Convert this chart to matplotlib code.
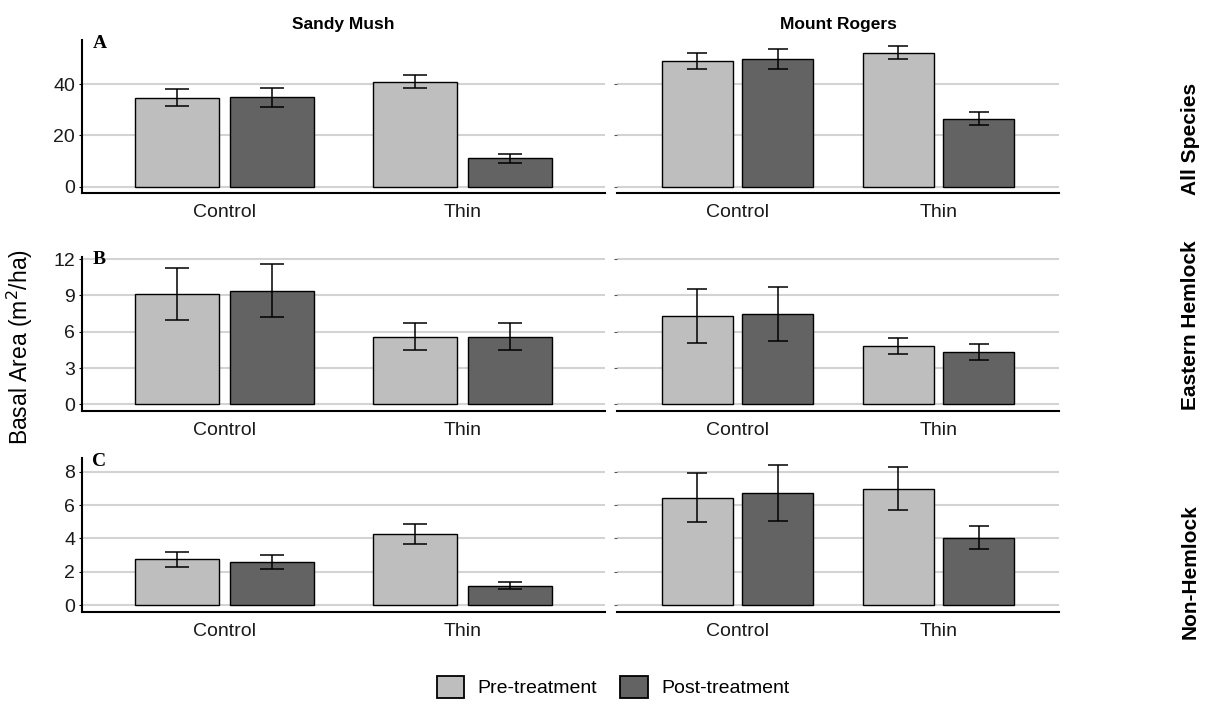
import matplotlib
matplotlib.use("Agg")
import matplotlib.pyplot as plt
import numpy as np
from matplotlib.patches import Patch

plt.rcParams['font.family'] = ['Liberation Sans', 'DejaVu Sans']

# data
sites = ["Sandy Mush", "Mount Rogers"]
groups = ["All Species", "Eastern Hemlock", "Non-Hemlock"]
letters = ["A", "B", "C"]
treatments = ["Control", "Thin"]
series = ["Pre-treatment", "Post-treatment"]

# [group][site] -> values for Control, Thin
pre_mean = [[[34.8, 41.0], [49.0, 52.3]],
            [[9.15, 5.6], [7.3, 4.8]],
            [[2.75, 4.25], [6.44, 6.98]]]
pre_se = [[[3.25, 2.6], [3.1, 2.5]],
          [[2.15, 1.1], [2.2, 0.68]],
          [[0.45, 0.6], [1.48, 1.27]]]
post_mean = [[[35.0, 11.0], [50.0, 26.6]],
             [[9.4, 5.6], [7.45, 4.3]],
             [[2.58, 1.17], [6.74, 4.05]]]
post_se = [[[3.7, 1.6], [3.95, 2.5]],
           [[2.2, 1.15], [2.25, 0.65]],
           [[0.42, 0.2], [1.68, 0.69]]]

yticks = [[0, 20, 40], [0, 3, 6, 9, 12], [0, 2, 4, 6, 8]]
ylims = [(-2.6, 57.3), (-0.55, 12.2), (-0.42, 8.8)]

pre_col = "#bebebe"
post_col = "#636363"

fig = plt.figure(figsize=(12.14, 7.06), dpi=100)

# axes boxes in pixels (left, top, right, bottom)
col_px = [(82, 605), (617, 1059)]
row_px = [(40, 193.3), (256.7, 411), (458.3, 612.3)]
strip_y = [139, 325, 572]
W, H = 1214, 706

x = np.arange(len(treatments))
bw = 0.355
off = 0.2

for r in range(3):
    for c in range(2):
        l, rr = col_px[c]
        t, b = row_px[r]
        ax = fig.add_axes([l / W, 1 - b / H, (rr - l) / W, (b - t) / H])
        cap = 8.6 if c == 0 else 7.2
        ax.bar(x - off, pre_mean[r][c], bw, color=pre_col, edgecolor="black",
               linewidth=1.0, zorder=3)
        ax.bar(x + off, post_mean[r][c], bw, color=post_col, edgecolor="black",
               linewidth=1.0, zorder=3)
        ax.errorbar(x - off, pre_mean[r][c], yerr=pre_se[r][c], fmt="none",
                    ecolor="black", elinewidth=1.1, capsize=cap, capthick=1.1, zorder=4)
        ax.errorbar(x + off, post_mean[r][c], yerr=post_se[r][c], fmt="none",
                    ecolor="black", elinewidth=1.1, capsize=cap, capthick=1.1, zorder=4)

        ax.set_xlim(-0.6, 1.6)
        ax.set_ylim(*ylims[r])
        ax.set_xticks(x)
        ax.set_xticklabels(treatments, fontsize=14, color="#1a1a1a")
        ax.set_yticks(yticks[r])
        ax.grid(axis="y", color="#d3d3d3", linewidth=1.5, zorder=0)
        ax.set_axisbelow(True)
        ax.tick_params(axis="x", length=0, pad=8)
        for s in ["top", "right"]:
            ax.spines[s].set_visible(False)
        ax.spines["bottom"].set_linewidth(1.5)
        if c == 0:
            ax.spines["left"].set_linewidth(1.5)
            ax.tick_params(axis="y", length=2, labelsize=14, labelcolor="#1a1a1a", pad=3)
            ax.text(0.02, 1.035, letters[r], transform=ax.transAxes, ha="left", va="top",
                    fontsize=14, fontweight="bold", family="Liberation Serif")
        else:
            ax.spines["left"].set_visible(False)
            ax.tick_params(axis="y", length=2, labelleft=False, color="#555555")
            fig.text(1190 / W, 1 - strip_y[r] / H, groups[r], rotation=90,
                     ha="center", va="center", fontsize=15, fontweight="bold")
        if r == 0:
            ax.set_title(sites[c], fontsize=12.5, fontweight="bold", pad=8)

fig.text(20 / W, 1 - 347 / H, "Basal Area (m$^2$/ha)", rotation=90,
         ha="center", va="center", fontsize=16.5)

handles = [Patch(facecolor=pre_col, edgecolor="black", linewidth=1.3),
           Patch(facecolor=post_col, edgecolor="black", linewidth=1.3)]
fig.legend(handles, series, loc="center", bbox_to_anchor=(613 / W, 1 - 687 / H),
           ncol=2, frameon=False, fontsize=14, handlelength=1.4, handleheight=1.4,
           columnspacing=1.2, handletextpad=0.7)

fig.savefig("out.png", dpi=100)
